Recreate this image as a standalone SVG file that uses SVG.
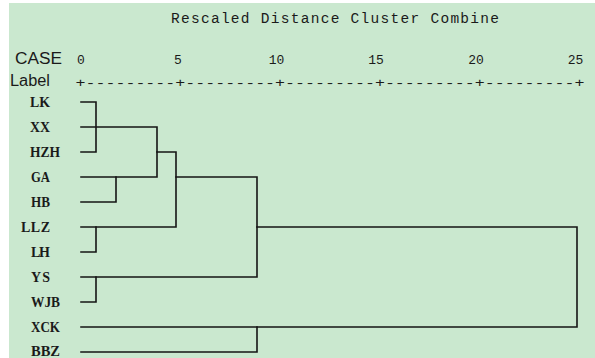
<svg xmlns="http://www.w3.org/2000/svg" width="595" height="358" viewBox="0 0 595 358">
<style>
.mono{font-family:"Liberation Mono","Courier New",monospace;fill:#1a1a1a}
.lbl{font-family:"Liberation Serif","Times New Roman",serif;font-size:14px;font-weight:bold;fill:#1a1a1a}
.ttl{font-size:14.5px}
.num{font-size:13px;text-anchor:middle}
.sans{font-family:"Liberation Sans",Arial,sans-serif;font-size:16px;fill:#1a1a1a}
.ln{fill:none;stroke:#151515;stroke-width:1.6;stroke-linejoin:miter;stroke-linecap:square}
</style>
<rect x="0" y="0" width="595" height="358" fill="#ffffff"/>
<rect x="9" y="3" width="586" height="355" fill="#cae8cf"/>
<g id="header">
<text class="mono ttl" x="171" y="23" textLength="328" lengthAdjust="spacing">Rescaled Distance Cluster Combine</text>
<text class="sans" x="15" y="63.5" textLength="47" lengthAdjust="spacingAndGlyphs">CASE</text>
<text class="sans" x="10" y="85.5" textLength="40" lengthAdjust="spacingAndGlyphs">Label</text>
</g>
<g id="axis">
<text class="mono num" x="81" y="64">0</text>
<text class="mono num" x="178" y="64">5</text>
<text class="mono num" x="276.5" y="64">10</text>
<text class="mono num" x="376" y="64">15</text>
<text class="mono num" x="476" y="64">20</text>
<text class="mono num" x="575.5" y="64">25</text>
<text class="mono" style="font-size:13px" x="75.5" y="86.5" textLength="509" lengthAdjust="spacingAndGlyphs">+---------+---------+---------+---------+---------+</text>
</g>
<g id="LK"><text class="lbl" x="30" y="107" textLength="20" lengthAdjust="spacingAndGlyphs">LK</text></g>
<g id="XX"><text class="lbl" x="30" y="132" textLength="20" lengthAdjust="spacingAndGlyphs">XX</text></g>
<g id="HZH"><text class="lbl" x="30" y="157" textLength="30" lengthAdjust="spacingAndGlyphs">HZH</text></g>
<g id="GA"><text class="lbl" x="31" y="182" textLength="19" lengthAdjust="spacingAndGlyphs">GA</text></g>
<g id="HB"><text class="lbl" x="31" y="207" textLength="19" lengthAdjust="spacingAndGlyphs">HB</text></g>
<g id="LLZ"><text class="lbl" x="21" y="232" textLength="29" lengthAdjust="spacing">LLZ</text></g>
<g id="LH"><text class="lbl" x="31" y="257" textLength="19" lengthAdjust="spacing">LH</text></g>
<g id="YS"><text class="lbl" x="31" y="282" textLength="19" lengthAdjust="spacing">YS</text></g>
<g id="WJB"><text class="lbl" x="31" y="307" textLength="29" lengthAdjust="spacingAndGlyphs">WJB</text></g>
<g id="XCK"><text class="lbl" x="31" y="332" textLength="29" lengthAdjust="spacingAndGlyphs">XCK</text></g>
<g id="BBZ"><text class="lbl" x="31" y="356" textLength="29" lengthAdjust="spacingAndGlyphs">BBZ</text></g>
<g id="connectors">
<path class="ln" d="M81 102H96V152H81"/>
<path class="ln" d="M81 127H157V177H81"/>
<path class="ln" d="M81 202H116V177"/>
<path class="ln" d="M157 152H176V227H81"/>
<path class="ln" d="M81 252H96V227"/>
<path class="ln" d="M176 177H257V277H81"/>
<path class="ln" d="M81 302H96V277"/>
<path class="ln" d="M257 227H577V327H81"/>
<path class="ln" d="M81 352H257V327"/>
</g>
</svg>
